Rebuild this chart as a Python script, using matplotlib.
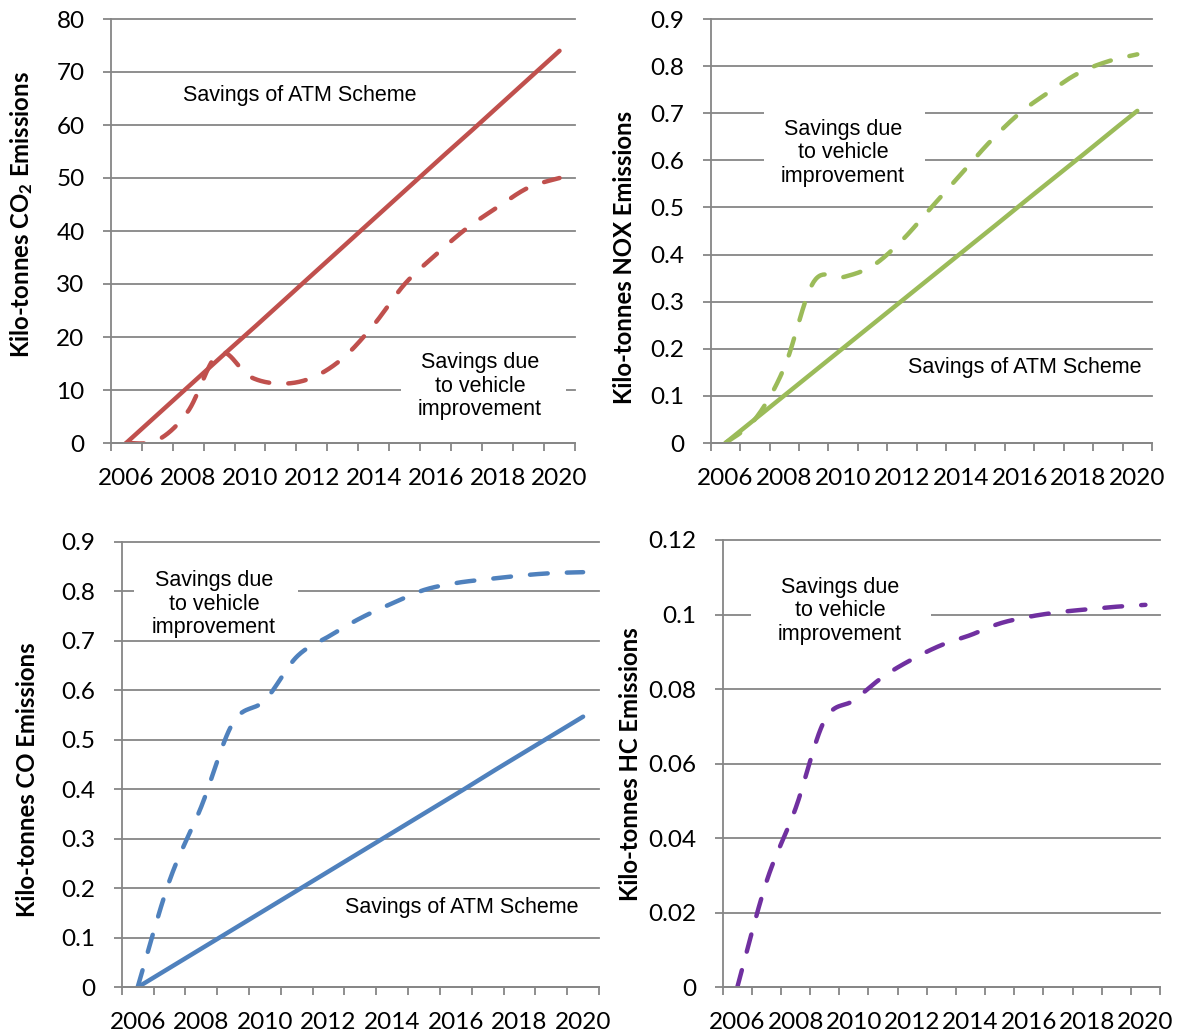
import numpy as np
import matplotlib
matplotlib.use("Agg")
import matplotlib.pyplot as plt
from matplotlib.patches import Rectangle

# ---------------- data ----------------
years = [2006, 2007, 2008, 2009, 2010, 2011, 2012, 2013, 2014, 2015, 2016, 2017, 2018, 2019, 2020]
year_labels = ["2006", "", "2008", "", "2010", "", "2012", "", "2014", "", "2016", "", "2018", "", "2020"]

co2_atm = [0, 5.3, 10.6, 15.9, 21.1, 26.4, 31.7, 37.0, 42.3, 47.6, 52.9, 58.1, 63.4, 68.7, 74.0]
co2_vehicle = [0, 0.5, 6.0, 17.0, 12.5, 11.2, 12.3, 16.0, 22.3, 30.0, 35.5, 40.5, 44.5, 48.2, 50.0]

nox_atm = [0, 0.0504, 0.1007, 0.151, 0.2014, 0.2518, 0.302, 0.3525, 0.403, 0.453, 0.504, 0.554, 0.604, 0.655, 0.705]
nox_vehicle = [0, 0.05, 0.16, 0.342, 0.352, 0.376, 0.43, 0.50, 0.57, 0.64, 0.70, 0.745, 0.785, 0.81, 0.825]

co_atm = [0, 0.039, 0.078, 0.117, 0.156, 0.195, 0.234, 0.273, 0.312, 0.351, 0.390, 0.430, 0.469, 0.508, 0.547]
co_vehicle = [0, 0.215, 0.365, 0.535, 0.58, 0.668, 0.709, 0.746, 0.776, 0.803, 0.817, 0.825, 0.832, 0.837, 0.839]

hc_vehicle = [0, 0.0283, 0.048, 0.0717, 0.077, 0.0833, 0.088, 0.0918, 0.0945, 0.0976, 0.0994, 0.1006, 0.1014, 0.1021, 0.1026]

co2_ticks = [0, 10, 20, 30, 40, 50, 60, 70, 80]
co2_ticklabels = ["0", "10", "20", "30", "40", "50", "60", "70", "80"]
nox_ticks = [0, 0.1, 0.2, 0.3, 0.4, 0.5, 0.6, 0.7, 0.8, 0.9]
nox_ticklabels = ["0", "0.1", "0.2", "0.3", "0.4", "0.5", "0.6", "0.7", "0.8", "0.9"]
co_ticks = [0, 0.1, 0.2, 0.3, 0.4, 0.5, 0.6, 0.7, 0.8, 0.9]
co_ticklabels = ["0", "0.1", "0.2", "0.3", "0.4", "0.5", "0.6", "0.7", "0.8", "0.9"]
hc_ticks = [0, 0.02, 0.04, 0.06, 0.08, 0.1, 0.12]
hc_ticklabels = ["0", "0.02", "0.04", "0.06", "0.08", "0.1", "0.12"]

txt_atm = "Savings of ATM Scheme"
txt_veh = "Savings due\nto vehicle\nimprovement"

RED = "#C0504D"
GREEN = "#9BBB59"
BLUE = "#4F81BD"
PURPLE = "#7030A0"
GRID = "#868686"

# ---------------- style ----------------
plt.rcParams["mathtext.fontset"] = "custom"
plt.rcParams["mathtext.rm"] = "Lato:bold"
plt.rcParams["mathtext.bf"] = "Lato:bold"
plt.rcParams["mathtext.default"] = "bf"

TICK_FS = 17.5
W, H = 1179, 1034
fig = plt.figure(figsize=(W / 100, H / 100), dpi=100)


def smooth(yvals, n=30):
    """Excel-style smoothed line (Catmull-Rom) through category points."""
    y = np.asarray(yvals, dtype=float)
    x = np.arange(len(y), dtype=float)
    px = np.concatenate([[x[0]], x, [x[-1]]])
    py = np.concatenate([[y[0]], y, [y[-1]]])
    xs, ys = [], []
    t = np.linspace(0, 1, n)
    for i in range(1, len(px) - 2):
        p0x, p1x, p2x, p3x = px[i - 1], px[i], px[i + 1], px[i + 2]
        p0y, p1y, p2y, p3y = py[i - 1], py[i], py[i + 1], py[i + 2]
        m1x, m2x = (p2x - p0x) / 2, (p3x - p1x) / 2
        m1y, m2y = (p2y - p0y) / 2, (p3y - p1y) / 2
        h00 = 2 * t**3 - 3 * t**2 + 1
        h10 = t**3 - 2 * t**2 + t
        h01 = -2 * t**3 + 3 * t**2
        h11 = t**3 - t**2
        xs.append(h00 * p1x + h10 * m1x + h01 * p2x + h11 * m2x)
        ys.append(h00 * p1y + h10 * m1y + h01 * p2y + h11 * m2y)
    return np.concatenate(xs), np.concatenate(ys)


def make_axes(x0, x1, y0, y1):
    return fig.add_axes([x0 / W, 1 - y1 / H, (x1 - x0) / W, (y1 - y0) / H])


def style_axes(ax, ylim, yticks, yticklabels):
    ax.set_xlim(-0.5, len(years) - 0.5)
    ax.set_ylim(*ylim)
    ax.set_axisbelow(True)
    ax.set_yticks(yticks)
    ax.set_yticklabels(yticklabels, fontfamily="Lato", fontsize=TICK_FS)
    ax.yaxis.grid(True, color=GRID, linewidth=1.3)
    ax.set_xticks(np.arange(-0.5, len(years), 1.0))
    ax.set_xticklabels([])
    ax.set_xticks(np.arange(len(years)), minor=True)
    ax.set_xticklabels(year_labels, minor=True, fontfamily="Lato", fontsize=TICK_FS)
    ax.tick_params(axis="x", which="major", length=5.8, width=1.3, color=GRID, direction="out")
    ax.tick_params(axis="x", which="minor", length=0, pad=18.0)
    ax.tick_params(axis="y", length=5.8, width=1.3, color=GRID, pad=13, direction="out")
    for s in ["top", "right"]:
        ax.spines[s].set_visible(False)
    for s in ["left", "bottom"]:
        ax.spines[s].set_color(GRID)
        ax.spines[s].set_linewidth(1.3)
    for gl in ax.get_ygridlines():
        gl.set_clip_on(False)


def plot_solid(ax, vals, color):
    xs, ys = smooth(vals)
    ax.plot(xs, ys, color=color, lw=3.2, solid_capstyle="round", zorder=2)


def plot_dashed(ax, vals, color):
    xs, ys = smooth(vals)
    ln, = ax.plot(xs, ys, color=color, lw=3.2, dash_capstyle="round", zorder=2)
    ln.set_dashes([4.0, 4.3])


def white_box(x0, x1, y0, y1):
    fig.patches.append(Rectangle((x0 / W, 1 - y1 / H), (x1 - x0) / W, (y1 - y0) / H,
                                 transform=fig.transFigure, facecolor="white",
                                 edgecolor="none", zorder=1))


def note(x, y, s):
    fig.text(x / W, 1 - y / H, s, ha="center", va="center", family="Liberation Sans",
             fontsize=15.5, linespacing=1.18, zorder=5)


def ylab(x, y, s):
    fig.text(x / W, 1 - y / H, s, rotation=90, ha="center", va="center",
             family="Lato", fontweight="bold", fontsize=17.2, zorder=5)


# ---------------- panel 1 : CO2 ----------------
ax1 = make_axes(110.7, 575, 19, 443)
style_axes(ax1, (0, 80), co2_ticks, co2_ticklabels)
plot_solid(ax1, co2_atm, RED)
plot_dashed(ax1, co2_vehicle, RED)

# ---------------- panel 2 : NOX ----------------
ax2 = make_axes(710.7, 1152, 19, 443)
style_axes(ax2, (0, 0.9), nox_ticks, nox_ticklabels)
plot_solid(ax2, nox_atm, GREEN)
plot_dashed(ax2, nox_vehicle, GREEN)

# ---------------- panel 3 : CO ----------------
ax3 = make_axes(121.7, 599, 542, 987.3)
style_axes(ax3, (0, 0.9), co_ticks, co_ticklabels)
plot_solid(ax3, co_atm, BLUE)
plot_dashed(ax3, co_vehicle, BLUE)

# ---------------- panel 4 : HC ----------------
ax4 = make_axes(722.7, 1160, 540, 987.3)
style_axes(ax4, (0, 0.12), hc_ticks, hc_ticklabels)
plot_dashed(ax4, hc_vehicle, PURPLE)

# white label boxes that interrupt gridlines
white_box(401, 566, 350, 425)
white_box(764, 925, 100, 192)
white_box(134, 298, 560, 626)
white_box(751, 931, 580, 645)

# annotations
note(299.5, 96, txt_atm)
note(480, 386, txt_veh)
note(1025, 368, txt_atm)
note(843, 153, txt_veh)
note(461.5, 908, txt_atm)
note(214, 604, txt_veh)
note(840, 611, txt_veh)

# y-axis titles
ylab(21.5, 215, r"Kilo-tonnes CO$_{2}$ Emissions")
ylab(624, 257, "Kilo-tonnes NOX Emissions")
ylab(27.5, 780, "Kilo-tonnes CO Emissions")
ylab(630, 764, "Kilo-tonnes HC Emissions")

fig.savefig("out.png", dpi=100, facecolor="white")
